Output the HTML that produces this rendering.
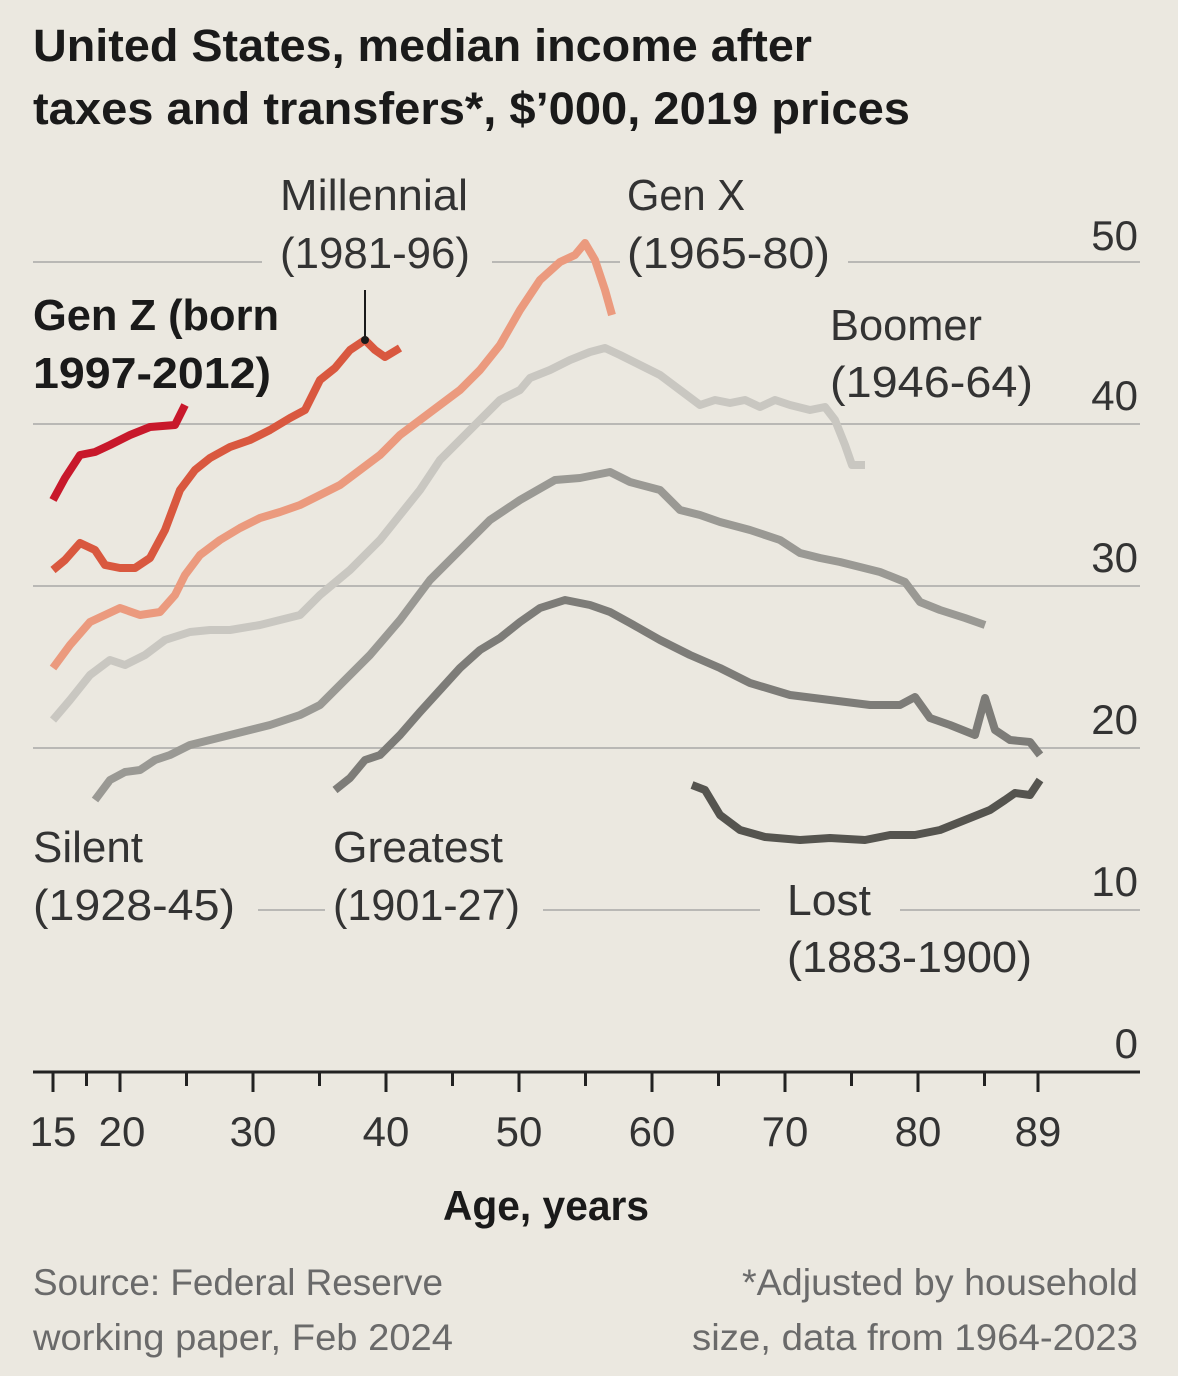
<!DOCTYPE html>
<html><head><meta charset="utf-8"><style>
html,body{margin:0;padding:0;background:#ebe8e0;}
svg{display:block;}
text{font-family:"Liberation Sans",sans-serif;}
</style></head><body>
<svg width="1178" height="1376" viewBox="0 0 1178 1376" xmlns="http://www.w3.org/2000/svg">
<rect width="1178" height="1376" fill="#ebe8e0"/>
<text x="33" y="61" font-size="45" font-weight="bold" fill="#1a1a1a" textLength="779" lengthAdjust="spacingAndGlyphs">United States, median income after</text>
<text x="33" y="124" font-size="45" font-weight="bold" fill="#1a1a1a" textLength="877" lengthAdjust="spacingAndGlyphs">taxes and transfers*, $’000, 2019 prices</text>
<g stroke="#b9b8b5" stroke-width="2">
<line x1="33" y1="262" x2="1140" y2="262"/><line x1="33" y1="424" x2="1140" y2="424"/>
<line x1="33" y1="586" x2="1140" y2="586"/><line x1="33" y1="748" x2="1140" y2="748"/>
<line x1="33" y1="910" x2="1140" y2="910"/>
</g>
<g fill="#ebe8e0">
<rect x="262" y="240" width="230" height="40"/><rect x="620" y="240" width="228" height="40"/>
<rect x="28" y="888" width="230" height="40"/><rect x="325" y="888" width="218" height="40"/>
<rect x="760" y="888" width="140" height="40"/>
</g>
<g fill="none" stroke-width="8" stroke-linejoin="round" stroke-linecap="butt">
<polyline stroke="#55544f" points="692,785 705,790 720,815 740,830 765,837 800,840 830,838 865,840 890,835 915,835 940,830 965,820 990,810 1005,800 1015,793 1030,795 1040,780"/>
<polyline stroke="#7d7c78" points="335,790 350,778 365,760 380,755 400,735 420,712 440,690 460,668 480,650 500,638 520,622 540,608 565,600 590,605 610,612 630,623 660,640 690,655 720,668 750,683 790,695 830,700 870,705 900,705 915,697 930,718 950,725 975,735 985,698 995,730 1010,740 1030,742 1040,755"/>
<polyline stroke="#9a9994" points="95,800 110,780 125,772 140,770 155,760 170,755 190,745 230,735 270,725 300,715 320,705 340,685 370,655 400,620 430,580 460,550 490,520 520,500 555,480 580,478 610,472 630,482 660,490 680,510 700,515 720,522 750,530 780,540 800,553 820,558 840,562 860,567 880,572 905,582 920,602 940,610 965,618 985,625"/>
<polyline stroke="#c9c7c1" points="53,720 70,700 90,675 110,660 125,665 145,655 165,640 190,632 210,630 230,630 260,625 300,615 320,595 350,570 380,540 400,515 420,490 440,460 460,440 480,420 500,400 520,390 530,378 550,370 570,360 590,352 605,348 620,355 640,365 660,375 680,390 700,405 715,400 730,403 745,400 760,407 775,400 790,405 810,410 825,407 835,420 845,445 852,465 865,465"/>
<polyline stroke="#eb9a7e" points="53,668 70,645 90,622 120,608 140,615 160,612 175,595 185,575 200,555 220,540 240,528 260,518 280,512 300,505 320,495 340,485 360,470 380,455 400,435 420,420 440,405 460,390 480,370 500,345 520,310 540,280 560,262 575,255 585,243 595,260 605,290 612,315"/>
<polyline stroke="#d9583f" points="53,570 65,560 80,543 95,550 105,565 120,568 135,568 150,558 165,530 180,490 195,470 210,458 230,447 250,440 270,430 290,418 305,410 320,380 335,368 350,350 365,340 375,350 385,357 400,348"/>
<polyline stroke="#c8182b" points="53,500 65,478 80,455 95,452 110,445 130,435 150,427 175,425 185,405"/>
</g>
<line x1="365" y1="290" x2="365" y2="340" stroke="#1a1a1a" stroke-width="2"/>
<circle cx="365" cy="340" r="4" fill="#1a1a1a"/>
<g font-size="44" fill="#333">
<text x="280" y="210" textLength="188" lengthAdjust="spacingAndGlyphs">Millennial</text>
<text x="280" y="268" textLength="190" lengthAdjust="spacingAndGlyphs">(1981-96)</text>
<text x="627" y="210" textLength="118" lengthAdjust="spacingAndGlyphs">Gen X</text>
<text x="627" y="268" textLength="203" lengthAdjust="spacingAndGlyphs">(1965-80)</text>
<text x="830" y="340" textLength="152" lengthAdjust="spacingAndGlyphs">Boomer</text>
<text x="830" y="397" textLength="203" lengthAdjust="spacingAndGlyphs">(1946-64)</text>
<text x="33" y="862" textLength="110" lengthAdjust="spacingAndGlyphs">Silent</text>
<text x="33" y="920" textLength="202" lengthAdjust="spacingAndGlyphs">(1928-45)</text>
<text x="333" y="862" textLength="170" lengthAdjust="spacingAndGlyphs">Greatest</text>
<text x="333" y="920" textLength="187" lengthAdjust="spacingAndGlyphs">(1901-27)</text>
<text x="787" y="915" textLength="84" lengthAdjust="spacingAndGlyphs">Lost</text>
<text x="787" y="972" textLength="245" lengthAdjust="spacingAndGlyphs">(1883-1900)</text>
</g>
<g font-size="44" font-weight="bold" fill="#1a1a1a">
<text x="33" y="330" textLength="246" lengthAdjust="spacingAndGlyphs">Gen Z (born</text>
<text x="33" y="388" textLength="238" lengthAdjust="spacingAndGlyphs">1997-2012)</text>
</g>
<g font-size="42" fill="#333" text-anchor="end">
<text x="1138" y="250">50</text><text x="1138" y="410">40</text><text x="1138" y="572">30</text>
<text x="1138" y="734">20</text><text x="1138" y="896">10</text><text x="1138" y="1058">0</text>
</g>
<line x1="33" y1="1072" x2="1140" y2="1072" stroke="#222" stroke-width="3"/>
<g stroke="#222" stroke-width="3">
<line x1="53" y1="1072" x2="53" y2="1092"/><line x1="86.5" y1="1072" x2="86.5" y2="1086"/>
<line x1="120" y1="1072" x2="120" y2="1092"/><line x1="186.5" y1="1072" x2="186.5" y2="1086"/>
<line x1="253" y1="1072" x2="253" y2="1092"/><line x1="319.5" y1="1072" x2="319.5" y2="1086"/>
<line x1="386" y1="1072" x2="386" y2="1092"/><line x1="452.5" y1="1072" x2="452.5" y2="1086"/>
<line x1="519" y1="1072" x2="519" y2="1092"/><line x1="585.5" y1="1072" x2="585.5" y2="1086"/>
<line x1="652" y1="1072" x2="652" y2="1092"/><line x1="718.5" y1="1072" x2="718.5" y2="1086"/>
<line x1="785" y1="1072" x2="785" y2="1092"/><line x1="851.5" y1="1072" x2="851.5" y2="1086"/>
<line x1="918" y1="1072" x2="918" y2="1092"/><line x1="984.5" y1="1072" x2="984.5" y2="1086"/>
<line x1="1038" y1="1072" x2="1038" y2="1092"/>
</g>
<g font-size="42" fill="#333" text-anchor="middle">
<text x="53" y="1146">15</text><text x="122" y="1146">20</text><text x="253" y="1146">30</text>
<text x="386" y="1146">40</text><text x="519" y="1146">50</text><text x="652" y="1146">60</text>
<text x="785" y="1146">70</text><text x="918" y="1146">80</text><text x="1038" y="1146">89</text>
</g>
<text x="546" y="1220" font-size="42" font-weight="bold" fill="#1a1a1a" text-anchor="middle" textLength="206" lengthAdjust="spacingAndGlyphs">Age, years</text>
<g font-size="37" fill="#6a6a6a">
<text x="33" y="1295" textLength="410" lengthAdjust="spacingAndGlyphs">Source: Federal Reserve</text>
<text x="33" y="1350" textLength="420" lengthAdjust="spacingAndGlyphs">working paper, Feb 2024</text>
<text x="1138" y="1295" text-anchor="end" textLength="396" lengthAdjust="spacingAndGlyphs">*Adjusted by household</text>
<text x="1138" y="1350" text-anchor="end" textLength="446" lengthAdjust="spacingAndGlyphs">size, data from 1964-2023</text>
</g>
</svg>
</body></html>
